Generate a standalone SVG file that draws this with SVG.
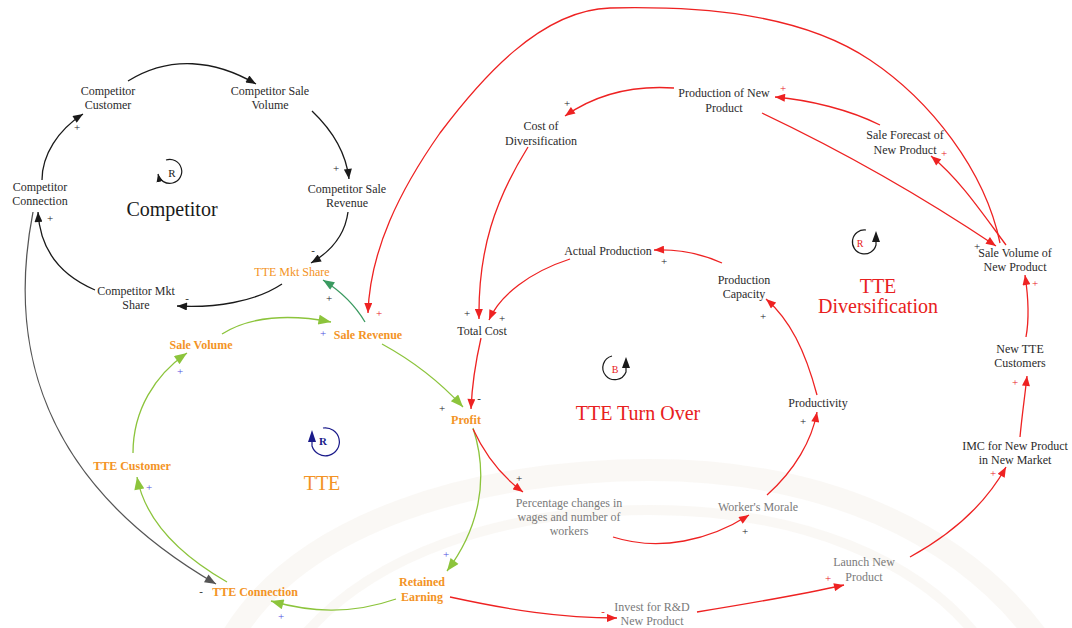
<svg xmlns="http://www.w3.org/2000/svg" width="1072" height="628" viewBox="0 0 1072 628">
<defs>
<style>
text{font-family:"Liberation Serif","Times New Roman",serif;text-anchor:middle}
.n{font-size:12px;fill:#2b2b2b}
.g{font-size:12px;fill:#7a7a7a}
.o{font-size:12px;fill:#f39325;font-weight:bold}
.o2{font-size:12px;fill:#f39325}
.p{font-size:11px;fill:#222}
.pr{font-size:11px;fill:#e82020}
.pb{font-size:11px;fill:#5050e0}
.big{font-size:20px}
.c{fill:none;stroke-width:1.3}
.k{stroke:#1a1a1a}
.dg{stroke:#555}
.gr{stroke:#8cc43c}
.tl{stroke:#3a9a60}
.r{stroke:#ee2222}
.wm{fill:none;stroke:#f3efe8;opacity:0.45}
</style>
<marker id="ak" viewBox="0 0 10 8" refX="10" refY="4" markerWidth="11" markerHeight="8" markerUnits="userSpaceOnUse" orient="auto"><path d="M0 0L10 4L0 8z" fill="#1a1a1a"/></marker>
<marker id="adg" viewBox="0 0 10 8" refX="10" refY="4" markerWidth="13" markerHeight="9" markerUnits="userSpaceOnUse" orient="auto"><path d="M0 0L10 4L0 8z" fill="#555"/></marker>
<marker id="agr" viewBox="0 0 10 8" refX="10" refY="4" markerWidth="14" markerHeight="10" markerUnits="userSpaceOnUse" orient="auto"><path d="M0 0L10 4L0 8z" fill="#8cc43c"/></marker>
<marker id="atl" viewBox="0 0 10 8" refX="10" refY="4" markerWidth="13" markerHeight="9" markerUnits="userSpaceOnUse" orient="auto"><path d="M0 0L10 4L0 8z" fill="#3a9a60"/></marker>
<marker id="ar" viewBox="0 0 10 8" refX="10" refY="4" markerWidth="11" markerHeight="8" markerUnits="userSpaceOnUse" orient="auto"><path d="M0 0L10 4L0 8z" fill="#ee2222"/></marker>
<marker id="al" viewBox="0 0 10 8" refX="10" refY="4" markerWidth="8" markerHeight="7" markerUnits="userSpaceOnUse" orient="auto"><path d="M0 0L10 4L0 8z" fill="#1a1a1a"/></marker>
</defs>
<rect width="1072" height="628" fill="#fff"/>
<g id="watermark">
<path class="wm" stroke-width="22" d="M230 640 C300 520 480 470 650 470 C820 470 960 530 1040 640"/>
<path class="wm" stroke-width="10" d="M300 640 C370 555 500 510 650 510 C800 510 920 560 980 640"/>
</g>
<g id="connectors">
<path class="c k" marker-end="url(#ak)" d="M128 81 C170 55 215 60 256 84"/>
<path class="c k" marker-end="url(#ak)" d="M312 111 C332 130 346 152 349 179"/>
<path class="c k" marker-end="url(#ak)" d="M348 212 C345 235 330 252 311 263"/>
<path class="c k" marker-end="url(#ak)" d="M282 284 C255 302 215 308 177 306"/>
<path class="c k" marker-end="url(#ak)" d="M95 290 C60 275 40 250 38 212"/>
<path class="c k" marker-end="url(#ak)" d="M42 180 C42 155 58 130 83 114"/>
<path class="c dg" marker-end="url(#adg)" d="M33 212 C12 320 20 470 216 584"/>
<path class="c gr" marker-end="url(#agr)" d="M222 334 C250 316 290 314 331 322"/>
<path class="c gr" marker-end="url(#agr)" d="M382 344 C415 362 440 382 463 407"/>
<path class="c gr" marker-end="url(#agr)" d="M473 428 C490 480 478 530 447 571"/>
<path class="c gr" marker-end="url(#agr)" d="M396 599 C350 615 310 612 271 601"/>
<path class="c gr" marker-end="url(#agr)" d="M227 582 C180 555 145 520 137 477"/>
<path class="c gr" marker-end="url(#agr)" d="M133 453 C133 410 155 375 187 353"/>
<path class="c tl" marker-end="url(#atl)" d="M365 322 C355 305 342 292 323 280"/>
<path class="c r" marker-end="url(#ar)" d="M1000 243 C985 170 930 100 870 60 C800 13 700 6 610 8 C540 10 480 80 440 133 C400 190 370 250 368 313"/>
<path class="c r" marker-end="url(#ar)" d="M674 88 C630 85 595 95 565 116"/>
<path class="c r" marker-end="url(#ar)" d="M528 147 C495 200 478 250 479 319"/>
<path class="c r" marker-end="url(#ar)" d="M570 259 C530 272 500 295 489 320"/>
<path class="c r" marker-end="url(#ar)" d="M481 338 C476 360 472 385 471 409"/>
<path class="c r" marker-end="url(#ar)" d="M722 263 C700 253 680 249 654 250"/>
<path class="c r" marker-end="url(#ar)" d="M817 395 C805 350 790 320 766 299"/>
<path class="c r" marker-end="url(#ar)" d="M767 495 C795 470 812 440 817 412"/>
<path class="c r" marker-end="url(#ar)" d="M613 537 C660 552 710 540 749 515"/>
<path class="c r" marker-end="url(#ar)" d="M473 429 C485 455 500 475 523 492"/>
<path class="c r" marker-end="url(#ar)" d="M450 597 C510 610 560 618 617 618"/>
<path class="c r" marker-end="url(#ar)" d="M697 612 C740 605 800 595 844 585"/>
<path class="c r" marker-end="url(#ar)" d="M910 557 C950 535 985 505 1006 467"/>
<path class="c r" marker-end="url(#ar)" d="M1020 437 C1022 415 1025 395 1027 376"/>
<path class="c r" marker-end="url(#ar)" d="M1026 337 C1030 315 1028 295 1025 275"/>
<path class="c r" marker-end="url(#ar)" d="M1006 245 C980 210 960 180 931 156"/>
<path class="c r" marker-end="url(#ar)" d="M880 125 C850 110 810 100 775 97"/>
<path class="c r" marker-end="url(#ar)" d="M762 113 C840 150 920 195 996 246"/>
</g>
<g id="polarities">
<text class="p" x="336" y="172">+</text>
<text class="p" x="313" y="254">-</text>
<text class="p" x="187" y="302">-</text>
<text class="p" x="50" y="222">+</text>
<text class="p" x="77" y="131">+</text>
<text class="p" x="201" y="595">-</text>
<text class="p" x="329" y="302">+</text>
<text class="pb" x="323" y="337">+</text>
<text class="pr" x="379" y="317">+</text>
<text class="p" x="442" y="412">+</text>
<text class="p" x="479" y="402">-</text>
<text class="p" x="467" y="317">+</text>
<text class="p" x="502" y="322">+</text>
<text class="p" x="567" y="107">+</text>
<text class="pr" x="783" y="92">+</text>
<text class="pr" x="944" y="157">+</text>
<text class="p" x="664" y="265">+</text>
<text class="p" x="763" y="320">+</text>
<text class="p" x="803" y="425">+</text>
<text class="p" x="745" y="535">+</text>
<text class="p" x="519" y="482">+</text>
<text class="pr" x="603" y="615">-</text>
<text class="pr" x="828" y="582">+</text>
<text class="pr" x="993" y="477">+</text>
<text class="pr" x="1015" y="386">+</text>
<text class="pr" x="1035" y="287">+</text>
<text class="p" x="977" y="250">+</text>
<text class="pb" x="180" y="375">+</text>
<text class="pb" x="149" y="491">+</text>
<text class="pb" x="281" y="620">+</text>
<text class="pb" x="446" y="558">+</text>
</g>
<g id="loop-competitor">
<path d="M166 160 A12 12 0 1 1 158 174" fill="none" stroke="#1a1a1a" stroke-width="1.2" marker-end="url(#al)"/>
<text x="172" y="177" style="font-size:11px;fill:#222">R</text>
<text class="big" x="172" y="216" style="fill:#1a1a1a">Competitor</text>
</g>
<g id="loop-tte">
<path d="M323 428 A14 14 0 1 1 312 446 L312 440" fill="none" stroke="#1a1a8a" stroke-width="1.2"/>
<path d="M308 442 L312 430 L316 442z" fill="#1a1a8a"/>
<text x="323" y="445" style="font-size:11px;fill:#1a1a8a;font-weight:bold">R</text>
<text class="big" x="322" y="490" style="fill:#f39325">TTE</text>
</g>
<g id="loop-diversification">
<path d="M866 230 A12 12 0 1 0 876 245 L876 240" fill="none" stroke="#1a1a1a" stroke-width="1.2"/>
<path d="M872 242 L876 231 L880 242z" fill="#1a1a1a"/>
<text x="860" y="247" style="font-size:10px;fill:#e82020">R</text>
<text x="878" y="293" style="font-size:20px;fill:#e82020">TTE</text>
<text x="878" y="313" style="font-size:20px;fill:#e82020">Diversification</text>
</g>
<g id="loop-turnover">
<path d="M612 356 A12 12 0 1 0 626 372 L626 366" fill="none" stroke="#1a1a1a" stroke-width="1.2"/>
<path d="M622 368 L626 357 L630 368z" fill="#1a1a1a"/>
<text x="615" y="373" style="font-size:10px;fill:#e82020">B</text>
<text x="638" y="420" style="font-size:20px;fill:#e82020">TTE Turn Over</text>
</g>
<g id="competitor-customer"><text class="n" x="108" y="95">Competitor</text><text class="n" x="108" y="109">Customer</text></g>
<g id="competitor-sale-volume"><text class="n" x="270" y="95">Competitor Sale</text><text class="n" x="270" y="109">Volume</text></g>
<g id="competitor-sale-revenue"><text class="n" x="347" y="193">Competitor Sale</text><text class="n" x="347" y="207">Revenue</text></g>
<g id="competitor-connection"><text class="n" x="40" y="191">Competitor</text><text class="n" x="40" y="205">Connection</text></g>
<g id="competitor-mkt-share"><text class="n" x="136" y="295">Competitor Mkt</text><text class="n" x="136" y="309">Share</text></g>
<g id="tte-mkt-share"><text class="o2" x="292" y="276">TTE Mkt Share</text></g>
<g id="sale-revenue"><text class="o" x="368" y="339">Sale Revenue</text></g>
<g id="sale-volume"><text class="o" x="201" y="349">Sale Volume</text></g>
<g id="tte-customer"><text class="o" x="132" y="470">TTE Customer</text></g>
<g id="tte-connection"><text class="o" x="255" y="596">TTE Connection</text></g>
<g id="retained-earning"><text class="o" x="422" y="586">Retained</text><text class="o" x="422" y="601">Earning</text></g>
<g id="profit"><text class="o" x="466" y="424">Profit</text></g>
<g id="total-cost"><text class="n" x="482" y="335">Total Cost</text></g>
<g id="cost-of-diversification"><text class="n" x="541" y="130">Cost of</text><text class="n" x="541" y="145">Diversification</text></g>
<g id="production-of-new-product"><text class="n" x="724" y="97">Production of New</text><text class="n" x="724" y="112">Product</text></g>
<g id="sale-forecast"><text class="n" x="905" y="139">Sale Forecast of</text><text class="n" x="905" y="154">New Product</text></g>
<g id="actual-production"><text class="n" x="608" y="255">Actual Production</text></g>
<g id="production-capacity"><text class="n" x="744" y="284">Production</text><text class="n" x="744" y="298">Capacity</text></g>
<g id="sale-volume-new-product"><text class="n" x="1015" y="257">Sale Volume of</text><text class="n" x="1015" y="271">New Product</text></g>
<g id="productivity"><text class="n" x="818" y="407">Productivity</text></g>
<g id="new-tte-customers"><text class="n" x="1020" y="353">New TTE</text><text class="n" x="1020" y="367">Customers</text></g>
<g id="imc"><text class="n" x="1015" y="450">IMC for New Product</text><text class="n" x="1015" y="464">in New Market</text></g>
<g id="workers-morale"><text class="g" x="758" y="511">Worker's Morale</text></g>
<g id="percentage-changes"><text class="g" x="569" y="507">Percentage changes in</text><text class="g" x="569" y="521">wages and number of</text><text class="g" x="569" y="535">workers</text></g>
<g id="launch-new-product"><text class="g" x="864" y="566">Launch New</text><text class="g" x="864" y="581">Product</text></g>
<g id="invest-rd"><text class="g" x="652" y="611">Invest for R&amp;D</text><text class="g" x="652" y="625">New Product</text></g>
</svg>
